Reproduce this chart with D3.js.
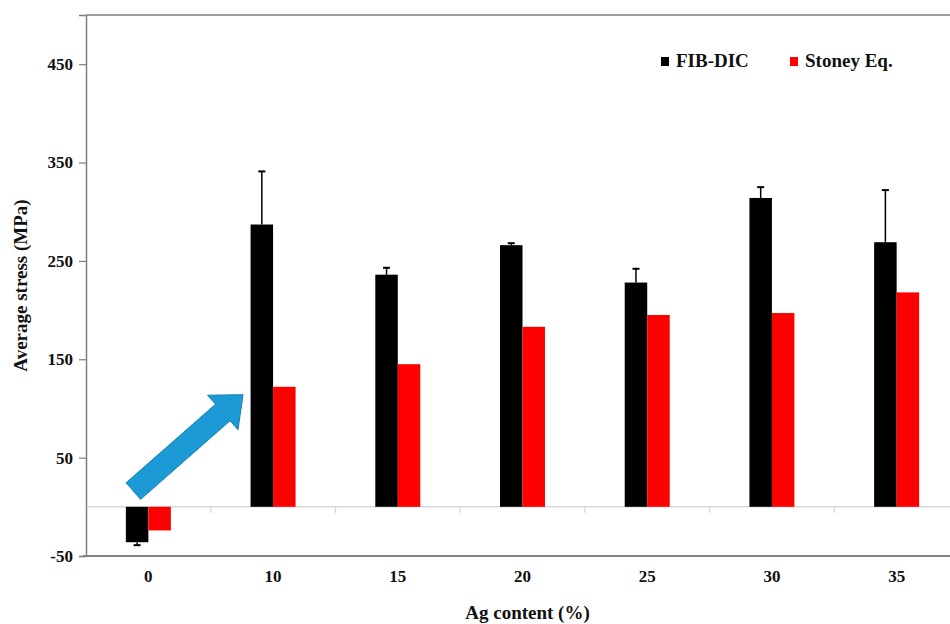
<!DOCTYPE html>
<html>
<head>
<meta charset="utf-8">
<title>Average stress vs Ag content</title>
<style>
  body { margin: 0; background: #fff; }
  svg text { font-family: "Liberation Serif", "Times New Roman", serif; font-weight: bold; fill: #111; }
</style>
</head>
<body>
<svg id="chart" width="950" height="624"></svg>
<script src="https://d3js.org/d3.v7.min.js"></script>
<script>
  var categories = ["0", "10", "15", "20", "25", "30", "35"];
  var series = ["FIB-DIC", "Stoney Eq."];
  var fibDic = [-36, 287, 236, 266, 228, 314, 269];
  var fibDicErr = [3, 54, 7, 2, 14, 11, 53];
  var stoney = [-24, 122, 145, 183, 195, 197, 218];
  var yTicks = [-50, 50, 150, 250, 350, 450];
  var colors = { "FIB-DIC": "#000000", "Stoney Eq.": "#ff0000" };

  var svg = d3.select("#chart"),
    plotL = 86, plotT = 15, plotB = 556, plotR = 959;

  var x = d3.scaleBand().domain(categories).range([plotL, plotR]);
  var y = d3.scaleLinear().domain([-50, 500]).range([plotB, plotT]);
  var groupW = 45;
  var x1 = d3.scaleBand().domain(series).range([-groupW / 2, groupW / 2]);

  // frame
  svg.append("line").attr("x1", plotL).attr("x2", plotR).attr("y1", plotT).attr("y2", plotT)
    .attr("stroke", "#7f7f7f").attr("stroke-width", 1.5);
  svg.append("line").attr("x1", plotL - 3).attr("x2", plotR).attr("y1", plotB).attr("y2", plotB)
    .attr("stroke", "#595959").attr("stroke-width", 1.5);

  // zero line with category ticks
  svg.append("line").attr("x1", plotL).attr("x2", plotR).attr("y1", y(0)).attr("y2", y(0))
    .attr("stroke", "#d9d9d9").attr("stroke-width", 1.5);
  svg.selectAll(".ztick").data(categories.slice(1)).enter().append("line")
    .attr("class", "ztick")
    .attr("x1", function (d) { return x(d); }).attr("x2", function (d) { return x(d); })
    .attr("y1", y(0)).attr("y2", y(0) + 6)
    .attr("stroke", "#d9d9d9").attr("stroke-width", 1.5);

  // y axis
  var yAxis = svg.append("g").attr("transform", "translate(" + plotL + ",0)")
    .call(d3.axisLeft(y).tickValues(yTicks).tickFormat(String).tickSize(7).tickPadding(6));
  yAxis.select(".domain").attr("stroke", "#7f7f7f").attr("stroke-width", 1.5);
  yAxis.selectAll(".tick line").attr("stroke", "#7f7f7f").attr("stroke-width", 1.2);
  yAxis.selectAll(".tick text").style("font-size", "17px")
    .style("font-family", "'Liberation Serif', serif").style("font-weight", "bold").attr("fill", "#111");

  // x labels
  svg.selectAll(".xlab").data(categories).enter().append("text")
    .attr("class", "xlab")
    .attr("x", function (d) { return x(d) + x.bandwidth() / 2; })
    .attr("y", 582)
    .attr("text-anchor", "middle")
    .style("font-size", "17px")
    .text(function (d) { return d; });

  // bars
  var rows = categories.map(function (c, i) {
    return { cat: c, vals: [
      { s: "FIB-DIC", v: fibDic[i], e: fibDicErr[i] },
      { s: "Stoney Eq.", v: stoney[i], e: 0 }
    ] };
  });

  var grp = svg.selectAll(".grp").data(rows).enter().append("g")
    .attr("class", "grp")
    .attr("transform", function (d) { return "translate(" + (x(d.cat) + x.bandwidth() / 2) + ",0)"; });

  grp.selectAll("rect").data(function (d) { return d.vals; }).enter().append("rect")
    .attr("x", function (d) { return x1(d.s); })
    .attr("width", x1.bandwidth())
    .attr("y", function (d) { return y(Math.max(0, d.v)); })
    .attr("height", function (d) { return Math.abs(y(d.v) - y(0)); })
    .attr("fill", function (d) { return colors[d.s]; });

  // error bars (one-sided, away from zero)
  var errs = grp.selectAll(".err").data(function (d) { return d.vals.filter(function (v) { return v.e > 0; }); })
    .enter().append("g").attr("class", "err");
  errs.append("line")
    .attr("x1", function (d) { return x1(d.s) + x1.bandwidth() / 2; })
    .attr("x2", function (d) { return x1(d.s) + x1.bandwidth() / 2; })
    .attr("y1", function (d) { return y(d.v); })
    .attr("y2", function (d) { return y(d.v + Math.sign(d.v) * d.e); })
    .attr("stroke", "#000").attr("stroke-width", 1.5);
  errs.append("line")
    .attr("x1", function (d) { return x1(d.s) + x1.bandwidth() / 2 - 3.5; })
    .attr("x2", function (d) { return x1(d.s) + x1.bandwidth() / 2 + 3.5; })
    .attr("y1", function (d) { return y(d.v + Math.sign(d.v) * d.e); })
    .attr("y2", function (d) { return y(d.v + Math.sign(d.v) * d.e); })
    .attr("stroke", "#000").attr("stroke-width", 2);

  // blue arrow annotation
  var cx0 = x("0") + x.bandwidth() / 2, cx1 = x("10") + x.bandwidth() / 2;
  var tail = [cx0 - 15, y(16)], tip = [cx1 - 30, y(114)];
  var dx = tip[0] - tail[0], dy = tip[1] - tail[1], len = Math.sqrt(dx * dx + dy * dy);
  var ux = dx / len, uy = dy / len, px = -uy, py = ux;
  var shaftW = 11, headW = 23, headL = 27;
  var bx = tip[0] - ux * headL, by = tip[1] - uy * headL;
  var pts = [
    [tail[0] + px * shaftW, tail[1] + py * shaftW],
    [bx + px * shaftW, by + py * shaftW],
    [bx + px * headW, by + py * headW],
    tip,
    [bx - px * headW, by - py * headW],
    [bx - px * shaftW, by - py * shaftW],
    [tail[0] - px * shaftW, tail[1] - py * shaftW]
  ];
  svg.append("path").attr("d", d3.line()(pts) + "Z")
    .attr("fill", "#1b9ad6").attr("stroke", "#1780b8").attr("stroke-width", 1);

  // legend
  var leg = svg.selectAll(".leg").data(series).enter().append("g")
    .attr("class", "leg")
    .attr("transform", function (d, i) { return "translate(" + (661 + i * 129) + ",57)"; });
  leg.append("rect").attr("width", 8).attr("height", 9)
    .attr("fill", function (d) { return colors[d]; });
  leg.append("text").attr("x", 15).attr("y", 10)
    .style("font-size", "19px")
    .text(function (d) { return d; });

  // axis titles
  svg.append("text")
    .attr("transform", "translate(27," + ((plotT + plotB) / 2) + ") rotate(-90)")
    .attr("text-anchor", "middle")
    .style("font-size", "19px")
    .text("Average stress (MPa)");
  svg.append("text")
    .attr("x", (plotL + plotR) / 2 + 5).attr("y", 619)
    .attr("text-anchor", "middle")
    .style("font-size", "19px")
    .text("Ag content (%)");
</script>
</body>
</html>
